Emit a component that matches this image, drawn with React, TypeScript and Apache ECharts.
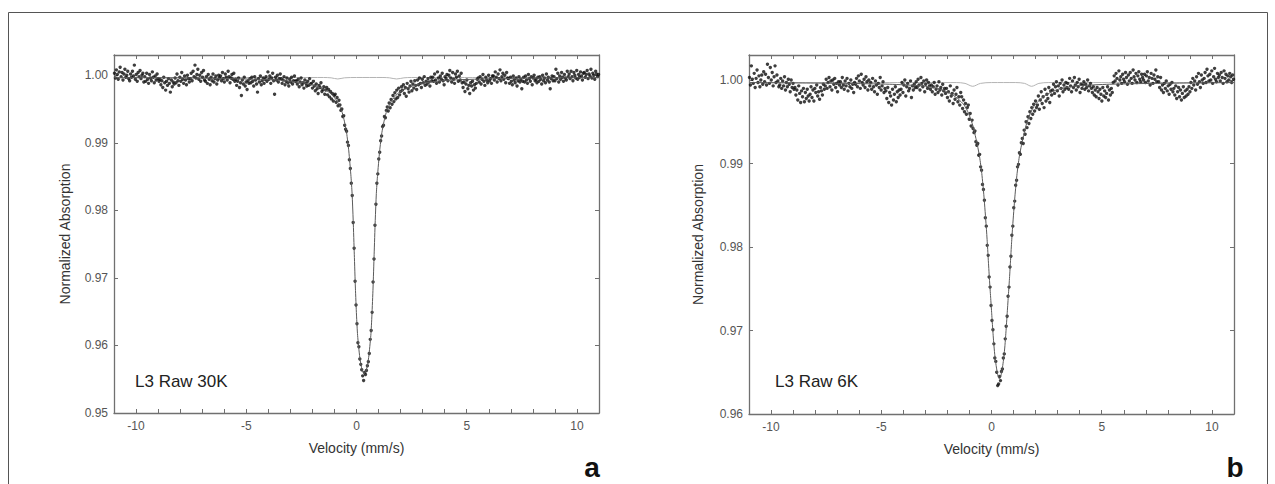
import React, { useEffect, useRef } from "react";
import * as echarts from "echarts";

// Velocity channels: 512 channels spanning -11 .. 11 mm/s
const CHANNELS = 512;
const V_MIN = -11;
const V_MAX = 11;

// Measured absorption, deviation from 1.0000 in units of 1e-4 (plot a, 30 K)
const DEV_30K = [
  3, -4, 8, 1, -6, 5, 12, -2, 4, -7, 2, 9, -3, 0, 6, -5,
  -8, 2, -3, 6, -1, 15, -6, 1, -9, 4, -2, 7, -5, 0, 3, -10,
  -2, -9, 3, -6, -12, 1, -4, -8, 5, -3, -11, -1, -7, 2, -5, -9,
  -6, -14, -8, -18, -3, -11, -22, -9, -15, -5, -12, -25, -7, -17, -10, -13,
  -4, -11, 2, -8, -15, -3, -9, 4, -6, -12, -1, -7, -14, 0, -5, -10,
  -5, 3, -8, 6, -2, 15, -4, 1, 9, -6, 0, -9, 4, -3, 7, -7,
  -9, -2, -12, 1, -6, -14, -3, -8, 2, -10, -5, -1, -13, -7, 0, -4,
  -1, -8, 4, -5, -10, 2, -3, -7, 6, -2, -11, -4, 1, -6, 3, -9,
  -6, -15, -9, -4, -18, -11, -30, -7, -13, -3, -16, -10, -21, -8, -12, -5,
  -11, -3, -9, -16, -2, -7, -13, -25, -5, -10, -1, -14, -8, -4, -12, -6,
  -2, -9, 5, -6, -1, -12, -4, 3, -8, -28, -3, -7, 0, -10, -5, 2,
  -5, -12, -7, -2, -14, -9, -4, -11, -16, -6, -10, -3, -13, -8, -1, -9,
  -8, -13, -6, -17, -10, -4, -14, -11, -19, -7, -12, -16, -9, -15, -5, -13,
  -12, -19, -9, -16, -23, -13, -20, -27, -15, -18, -11, -24, -21, -17, -28, -22,
  -18, -29, -21, -32, -24, -35, -27, -38, -30, -28, -40, -33, -45, -37, -44, -52,
  -50, -61, -60, -74, -80, -83, -99, -104, -125, -138, -160, -178, -218, -256, -305, -340,
  -368, -396, -402, -420, -428, -436, -445, -452, -440, -443, -437, -430, -424, -412, -391, -378,
  -351, -306, -272, -222, -191, -160, -146, -124, -114, -97, -90, -76, -74, -61, -63, -52,
  -47, -53, -41, -48, -36, -43, -30, -39, -26, -35, -22, -33, -19, -29, -24, -17,
  -22, -14, -27, -18, -31, -12, -20, -25, -16, -9, -23, -13, -19, -8, -15, -21,
  -7, -14, -4, -12, -18, -6, -11, -2, -15, -9, -13, -5, -10, -16, -3, -8,
  -3, -9, 2, -7, -12, 5, -4, -10, -1, -6, 3, -8, -14, -2, -5, 1,
  -8, 0, 7, -4, -10, 4, -6, -12, 2, -3, 6, -9, -1, -7, 3, -11,
  -18, -10, -24, -13, -7, -20, -15, -27, -11, -16, -9, -22, -14, -19, -12, -6,
  -4, -10, -2, -13, -6, 1, -9, -15, -3, -7, -11, 0, -8, -5, -12, -1,
  -1, -7, 5, -3, -10, 2, -5, 8, -8, -2, 3, -6, 0, -11, 4, -4,
  -5, -12, -3, -9, -14, -1, -7, -11, -4, -16, -8, -2, -10, -6, -20, -9,
  -3, -10, -1, -7, -12, 1, -5, -9, -2, -14, -4, 0, -8, -6, -11, -3,
  -9, -2, -6, -13, 0, -8, -4, -11, 2, -7, -3, -10, -20, -5, -1, -8,
  -2, -8, 9, -5, 3, -10, -1, -6, 4, -3, -9, 1, -4, -7, 6, -2,
  2, -5, 6, -2, -8, 4, 0, -4, 7, -6, 1, -3, 5, -1, -7, 3,
  4, -3, 1, 7, -5, 2, -1, 9, -4, 3, 0, -6, 6, 2, -2, 1,
];

// Measured absorption, deviation from 1.0000 in units of 1e-4 (plot b, 6 K)
const DEV_6K = [
  3, -6, 17, 1, -4, 8, -9, 2, 12, -3, 5, -8, 0, 6, -5, 10,
  -2, 7, -6, 19, 3, -4, 15, 0, 9, -7, 4, 17, -3, 6, -1, -8,
  -6, 2, -10, -1, -7, 4, -12, -3, -8, 1, -5, -14, 0, -9, -4, -11,
  -9, -18, -12, -24, -7, -16, -27, -13, -20, -10, -26, -15, -22, -11, -19, -25,
  -17, -8, -21, -12, -25, -10, -15, -6, -19, -14, -23, -9, -13, -18, -5, -11,
  -7, 1, -10, -3, 3, -8, -1, -12, 0, -5, 2, -9, -4, -14, -2, -6,
  -2, -9, 3, -6, -11, -1, -7, 2, -13, -4, -8, 0, -10, -5, -15, -3,
  -5, 2, -8, 5, -1, -10, 7, -3, -6, 1, -9, 4, -2, -12, 0, -7,
  -3, -11, 2, -8, -14, -1, -6, -17, -4, -9, 3, -12, -7, -2, -15, -10,
  -13, -22, -9, -27, -15, -19, -30, -11, -24, -17, -8, -26, -14, -21, -12, -18,
  -11, -3, -15, -6, 0, -19, -8, -4, -13, -10, -1, -21, -7, -12, -5, -9,
  -2, -9, 1, -6, -12, 3, -4, -8, -1, -14, -5, 0, -10, -3, -7, -11,
  -6, -14, -8, -3, -17, -11, -7, -15, -2, -12, -9, -18, -5, -13, -10, -16,
  -10, -21, -14, -25, -7, -19, -16, -28, -12, -23, -17, -9, -26, -20, -30, -15,
  -20, -34, -24, -38, -28, -41, -33, -30, -47, -40, -55, -48, -58, -63, -61, -74,
  -78, -76, -90, -89, -104, -108, -125, -131, -144, -165, -175, -198, -210, -236, -248, -270,
  -288, -299, -316, -333, -337, -350, -366, -364, -355, -360, -349, -346, -333, -328, -310, -295,
  -283, -259, -248, -224, -211, -186, -175, -153, -145, -126, -120, -104, -101, -87, -89, -75,
  -70, -76, -60, -65, -50, -57, -44, -52, -38, -46, -33, -41, -29, -37, -25, -33,
  -30, -19, -35, -24, -14, -28, -20, -33, -11, -25, -17, -22, -9, -27, -13, -18,
  -12, -5, -16, -8, -2, -13, -7, -19, -4, -10, 0, -14, -6, -11, -3, -9,
  -4, -11, 2, -7, -14, -1, -9, 3, -6, -12, -3, -8, 1, -15, -5, -10,
  -6, -2, -11, -5, -9, 0, -13, -7, -4, -10, -15, -8, -18, -12, -20, -9,
  -14, -22, -11, -17, -25, -9, -19, -13, -21, -16, -8, -24, -12, -18, -10, -15,
  -3, 5, -1, 8, 2, -6, 11, 0, 4, -4, 7, 1, -2, 9, 3, -5,
  6, -1, 9, 2, -4, 12, 4, 0, 8, -3, 5, 10, 1, -2, 7, 3,
  0, 7, -3, 5, 10, -1, 3, -6, 8, 2, -4, 6, 1, 12, -2, 4,
  -2, -9, 3, -12, -6, -15, -4, -10, -1, -13, -7, -17, -5, -11, -3, -14,
  -10, -18, -7, -22, -14, -9, -20, -12, -24, -16, -8, -21, -13, -19, -11, -17,
  -8, -14, -3, -10, 2, -6, -1, -12, 4, -5, 8, -2, -9, 6, 0, -4,
  2, 9, -3, 13, 5, -1, 7, 0, 11, -4, 4, 14, 1, -2, 8, 3,
  6, -1, 9, 3, -4, 11, 2, 7, -2, 5, 0, 8, 4, -3, 6, 1,
];

// Fitted total envelope (units of 1e-4 from 1.0000)
const FIT_30K_V = [-11, -7.65, -5.65, -3.65, -2.65, -2.15, -1.65, -1.25, -1.05, -0.85, -0.65, -0.55, -0.45, -0.35, -0.25, -0.2, -0.15, -0.1, -0.05, 0, 0.05, 0.15, 0.25, 0.35, 0.45, 0.55, 0.65, 0.7, 0.75, 0.8, 0.85, 0.9, 0.95, 1.05, 1.15, 1.25, 1.35, 1.55, 1.75, 1.95, 2.35, 2.85, 3.35, 4.35, 6.35, 8.35, 11];
const FIT_30K = [-3.5, -4, -5, -7, -10, -13, -18, -25, -31, -40, -55, -68, -85, -112, -150, -175, -215, -265, -315, -355, -385, -418, -436, -442, -436, -418, -385, -355, -315, -265, -215, -175, -150, -112, -85, -68, -55, -40, -31, -25, -18, -13, -10, -7, -5, -4, -3.5];
const FIT_6K_V = [-11, -6.64, -4.64, -3.14, -2.44, -1.94, -1.54, -1.24, -1.04, -0.84, -0.64, -0.54, -0.44, -0.34, -0.24, -0.19, -0.14, -0.09, -0.04, 0.01, 0.06, 0.11, 0.16, 0.21, 0.26, 0.31, 0.36, 0.41, 0.46, 0.51, 0.56, 0.61, 0.66, 0.71, 0.76, 0.81, 0.86, 0.91, 0.96, 1.06, 1.16, 1.26, 1.36, 1.56, 1.76, 1.96, 2.26, 2.66, 3.16, 3.86, 5.36, 7.36, 11];
const FIT_6K = [-3, -4, -5, -7, -10, -15, -22, -30, -40, -55, -78, -92, -112, -140, -175, -195, -218, -240, -260, -280, -300, -318, -332, -342, -350, -356, -358, -356, -350, -342, -332, -318, -300, -280, -260, -240, -218, -195, -175, -140, -112, -92, -78, -55, -40, -30, -22, -15, -10, -7, -5, -4, -3];

// Minor sub-spectrum (grey line), units of 1e-4 from 1.0000
const SUB_30K_V = [-11, -1.5, -1.15, -0.85, -0.55, 0, 1.2, 1.5, 1.82, 2.15, 2.5, 11];
const SUB_30K = [-3.3, -3.3, -3.8, -5.5, -3.8, -3.3, -3.3, -3.8, -5.5, -3.8, -3.3, -3.3];
const SUB_6K_V = [-11, -1.6, -1.2, -0.85, -0.5, 0, 1.1, 1.5, 1.82, 2.15, 2.6, 11];
const SUB_6K = [-3, -3, -4, -7.5, -4, -3, -3, -4, -7.5, -4, -3, -3];

const TITLES = ["L3 Raw 30K", "L3 Raw 6K"];
const PANEL_LETTERS = ["a", "b"];
const Y_MIN = [0.95, 0.96];
const Y_MAX = 1.003;
const X_NAME = "Velocity (mm/s)";
const Y_NAME = "Normalized Absorption";

const toAbs = (d: number) => 1 + d / 10000;
const channelV = (i: number) => V_MIN + ((i + 0.5) * (V_MAX - V_MIN)) / CHANNELS;
const pts = (dev: number[]) => dev.map((d, i) => [channelV(i), toAbs(d)]);
const curve = (vs: number[], ds: number[]) => vs.map((v, i) => [v, toAbs(ds[i])]);

const FONT = "'Liberation Sans', Arial, sans-serif";
const AXIS_COLOR = "#707070";

function xAxes(grid: number) {
  const common = {
    gridIndex: grid,
    type: "value",
    min: V_MIN,
    max: V_MAX,
    interval: 1,
    splitLine: { show: false },
    axisLine: { show: true, onZero: false, lineStyle: { color: AXIS_COLOR, width: 1.3 } },
    axisTick: { show: true, inside: true, length: 4, lineStyle: { color: AXIS_COLOR, width: 1 } },
  };
  return [
    {
      ...common,
      position: "bottom",
      axisLabel: {
        color: "#555",
        fontSize: 12,
        fontFamily: FONT,
        margin: 7,
        formatter: (v: number) => (Math.abs(v % 5) < 1e-9 && Math.abs(v) < 10.5 ? String(Math.round(v)) : ""),
      },
      name: X_NAME,
      nameLocation: "middle",
      nameGap: 28,
      nameTextStyle: { color: "#333", fontSize: 14, fontFamily: FONT },
    },
    { ...common, position: "top", axisLabel: { show: false } },
  ];
}

function yAxes(grid: number, nameGap: number) {
  const common = {
    gridIndex: grid,
    type: "value",
    min: Y_MIN[grid],
    max: Y_MAX,
    interval: 0.01,
    splitLine: { show: false },
    axisLine: { show: true, onZero: false, lineStyle: { color: AXIS_COLOR, width: 1.3 } },
    axisTick: { show: true, inside: true, length: 4, lineStyle: { color: AXIS_COLOR, width: 1 } },
  };
  return [
    {
      ...common,
      position: "left",
      axisLabel: {
        color: "#555",
        fontSize: 12,
        fontFamily: FONT,
        margin: 6,
        formatter: (v: number) => (Math.abs(Math.round(v * 100) - v * 100) < 1e-6 ? v.toFixed(2) : ""),
      },
      name: Y_NAME,
      nameLocation: "middle",
      nameGap,
      nameTextStyle: { color: "#333", fontSize: 14, fontFamily: FONT },
    },
    { ...common, position: "right", axisLabel: { show: false } },
  ];
}

function seriesFor(grid: number, dev: number[], fv: number[], fd: number[], sv: number[], sd: number[]) {
  const xi = grid * 2;
  const yi = grid * 2;
  return [
    {
      type: "line",
      xAxisIndex: xi,
      yAxisIndex: yi,
      data: curve(sv, sd),
      showSymbol: false,
      smooth: 0.3,
      lineStyle: { color: "#b4b4b4", width: 1 },
      z: 1,
    },
    {
      type: "scatter",
      xAxisIndex: xi,
      yAxisIndex: yi,
      data: pts(dev),
      symbol: "circle",
      symbolSize: 3.4,
      itemStyle: { color: "#0e0e0e" },
      z: 2,
    },
    {
      type: "line",
      xAxisIndex: xi,
      yAxisIndex: yi,
      data: curve(fv, fd),
      showSymbol: false,
      smooth: 0.2,
      lineStyle: { color: "#5a5a5a", width: 1 },
      z: 3,
    },
  ];
}

export default function App() {
  const ref = useRef<HTMLDivElement>(null);
  useEffect(() => {
    if (!ref.current) return;
    const chart = echarts.init(ref.current, undefined, { renderer: "svg" });
    chart.setOption({
      animation: false,
      backgroundColor: "#ffffff",
      grid: [
        { left: 114, top: 55, width: 485, height: 358 },
        { left: 749, top: 55, width: 485, height: 359 },
      ],
      xAxis: [...xAxes(0), ...xAxes(1)],
      yAxis: [...yAxes(0, 42), ...yAxes(1, 44)],
      series: [
        ...seriesFor(0, DEV_30K, FIT_30K_V, FIT_30K, SUB_30K_V, SUB_30K),
        ...seriesFor(1, DEV_6K, FIT_6K_V, FIT_6K, SUB_6K_V, SUB_6K),
      ],
      graphic: [
        { type: "line", shape: { x1: 8.5, y1: 12.5, x2: 1267.5, y2: 12.5 }, style: { stroke: "#555", lineWidth: 1 } },
        { type: "line", shape: { x1: 8.5, y1: 12.5, x2: 8.5, y2: 484 }, style: { stroke: "#555", lineWidth: 1 } },
        { type: "line", shape: { x1: 1267.5, y1: 12.5, x2: 1267.5, y2: 484 }, style: { stroke: "#555", lineWidth: 1 } },
        { type: "text", x: 135, y: 381, style: { text: TITLES[0], fill: "#222", font: `17px ${FONT}`, verticalAlign: "middle" } },
        { type: "text", x: 775, y: 381, style: { text: TITLES[1], fill: "#222", font: `17px ${FONT}`, verticalAlign: "middle" } },
        { type: "text", x: 592, y: 467, style: { text: PANEL_LETTERS[0], fill: "#111", font: `bold 28px ${FONT}`, align: "center", verticalAlign: "middle" } },
        { type: "text", x: 1235, y: 467, style: { text: PANEL_LETTERS[1], fill: "#111", font: `bold 28px ${FONT}`, align: "center", verticalAlign: "middle" } },
      ],
    });
    return () => chart.dispose();
  }, []);
  return <div ref={ref} style={{ position: "fixed", left: 0, top: 0, width: 1275, height: 484, background: "#fff" }} />;
}
